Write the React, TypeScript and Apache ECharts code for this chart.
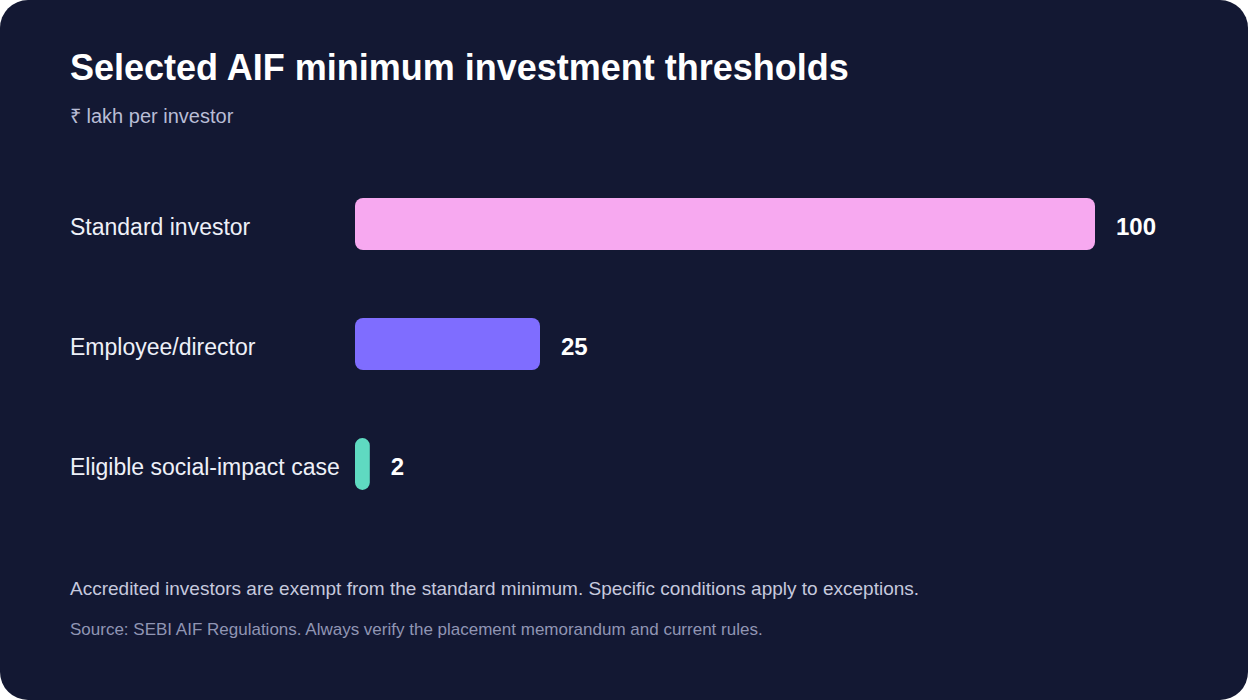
import { useEffect, useRef } from 'react'
import * as echarts from 'echarts'

// Selected AIF minimum investment thresholds (₹ lakh per investor)
const CATEGORIES = ['Standard investor', 'Employee/director', 'Eligible social-impact case']
const VALUES = [100, 25, 2]
const BAR_COLORS = ['#f7a9f0', '#7f6dff', '#5fdac1']

const TITLE = 'Selected AIF minimum investment thresholds'
const SUBTITLE = '₹ lakh per investor'
const NOTE = 'Accredited investors are exempt from the standard minimum. Specific conditions apply to exceptions.'
const SOURCE = 'Source: SEBI AIF Regulations. Always verify the placement memorandum and current rules.'

const COLOR = {
  bg: '#131833',
  title: '#ffffff',
  label: '#eef0f8',
  sub: '#b9bdd6',
  note: '#c6c9de',
  source: '#9095b3',
}

const SANS = "'Liberation Sans', Arial, Helvetica, sans-serif"

function buildOption(): echarts.EChartsOption {
  return {
    animation: false,
    backgroundColor: 'transparent',
    textStyle: { fontFamily: SANS },
    grid: { left: 355, right: 153, top: 164, height: 360 },
    xAxis: {
      type: 'value',
      min: 0,
      max: 100,
      show: false,
    },
    yAxis: {
      type: 'category',
      inverse: true,
      data: CATEGORIES,
      axisLine: { show: false },
      axisTick: { show: false },
      splitLine: { show: false },
      axisLabel: {
        align: 'left',
        margin: 285,
        formatter: (v: string) => `{c|${v}}`,
        rich: {
          c: {
            color: COLOR.label,
            fontSize: 23,
            fontFamily: SANS,
            padding: [6, 0, 0, 0],
          },
        },
      },
    },
    series: [
      {
        type: 'bar',
        barWidth: 52,
        data: VALUES.map((v, i) => ({
          value: v,
          itemStyle: {
            color: BAR_COLORS[i],
            borderRadius: v < 5 ? 7.5 : 8,
          },
        })),
        label: {
          show: true,
          position: 'right',
          distance: 21,
          offset: [0, 2],
          color: '#ffffff',
          fontSize: 24,
          fontWeight: 'bold',
          fontFamily: SANS,
        },
      },
    ],
    graphic: [
      {
        type: 'text',
        left: 70,
        top: 49,
        style: {
          text: TITLE,
          fill: COLOR.title,
          font: `bold 36px ${SANS}`,
        },
      },
      {
        type: 'text',
        left: 70,
        top: 106,
        style: {
          text: SUBTITLE,
          fill: COLOR.sub,
          font: `20px ${SANS}`,
        },
      },
      {
        type: 'text',
        left: 70,
        top: 579,
        style: {
          text: NOTE,
          fill: COLOR.note,
          font: `19px ${SANS}`,
        },
      },
      {
        type: 'text',
        left: 70,
        top: 621,
        style: {
          text: SOURCE,
          fill: COLOR.source,
          font: `17px ${SANS}`,
        },
      },
    ],
  }
}

function ThresholdChart() {
  const ref = useRef<HTMLDivElement>(null)

  useEffect(() => {
    const el = ref.current
    if (!el) return
    const chart = echarts.init(el, undefined, { renderer: 'svg' })
    chart.setOption(buildOption())
    return () => chart.dispose()
  }, [])

  return <div ref={ref} style={{ width: 1248, height: 700 }} />
}

export default function App() {
  return (
    <div
      style={{
        position: 'fixed',
        left: 0,
        top: 0,
        width: 1248,
        height: 700,
        background: '#ffffff',
      }}
    >
      <div
        style={{
          width: 1248,
          height: 700,
          borderRadius: 28,
          overflow: 'hidden',
          background: COLOR.bg,
        }}
      >
        <ThresholdChart />
      </div>
    </div>
  )
}
